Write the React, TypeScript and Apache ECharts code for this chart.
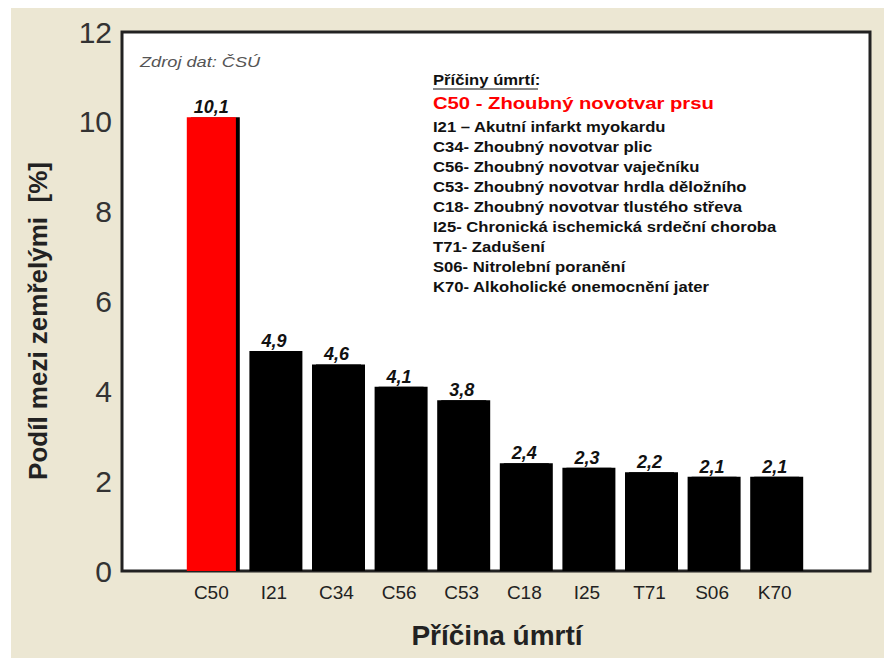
import React, { useEffect, useRef } from 'react';
import * as echarts from 'echarts';

const categories = ['C50', 'I21', 'C34', 'C56', 'C53', 'C18', 'I25', 'T71', 'S06', 'K70'];
const values = [10.1, 4.9, 4.6, 4.1, 3.8, 2.4, 2.3, 2.2, 2.1, 2.1];
const barColors = ['#ff0000', '#000000', '#000000', '#000000', '#000000', '#000000', '#000000', '#000000', '#000000', '#000000'];
const yMin = 0;
const yMax = 12;
const yInterval = 2;
const sourceText = 'Zdroj dat: ČSÚ';
const yAxisTitle = 'Podíl mezi zemřelými  [%]';
const xAxisTitle = 'Příčina úmrtí';
const legendTitle = 'Příčiny úmrtí:';
const legendHighlight = 'C50 - Zhoubný novotvar prsu';
const legendItems = [
  'I21 – Akutní infarkt myokardu',
  'C34- Zhoubný novotvar plic',
  'C56- Zhoubný novotvar vaječníku',
  'C53- Zhoubný novotvar hrdla děložního',
  'C18- Zhoubný novotvar tlustého střeva',
  'I25- Chronická ischemická srdeční choroba',
  'T71- Zadušení',
  'S06- Nitrolební poranění',
  'K70- Alkoholické onemocnění jater',
];

const FONT = '"Liberation Sans", Arial, sans-serif';

export default function App() {
  const ref = useRef<HTMLDivElement>(null);
  useEffect(() => {
    if (!ref.current) return;
    const chart = echarts.init(ref.current, undefined, { renderer: 'svg' });
    const legendX = 433;
    const sx = 1.19;
    const graphic: any[] = [
      { type: 'rect', z: -10, shape: { x: 11, y: 8, width: 900, height: 700 }, style: { fill: '#ece7d3' }, silent: true },
      { type: 'text', x: 140, y: 62, scaleX: 1.3, style: { text: sourceText, font: `italic 14px ${FONT}`, fill: '#555', textVerticalAlign: 'middle' } },
      { type: 'text', x: legendX, y: 80, scaleX: sx, style: { text: legendTitle, font: `bold 14px ${FONT}`, fill: '#111', textVerticalAlign: 'middle' } },
      { type: 'line', shape: { x1: legendX, y1: 89, x2: legendX + 105, y2: 89 }, style: { stroke: '#111', lineWidth: 1 } },
      { type: 'text', x: legendX, y: 103, scaleX: sx, style: { text: legendHighlight, font: `bold 17px ${FONT}`, fill: '#ff0000', textVerticalAlign: 'middle' } },
      ...legendItems.map((t, i) => ({
        type: 'text', x: legendX, y: 127 + i * 20, scaleX: sx,
        style: { text: t, font: `bold 14px ${FONT}`, fill: '#111', textVerticalAlign: 'middle' },
      })),
      { type: 'text', x: 38, y: 321, rotation: Math.PI / 2, style: { text: yAxisTitle, font: `bold 26px ${FONT}`, fill: '#222', textAlign: 'center', textVerticalAlign: 'middle' } },
      { type: 'text', x: 497, y: 635, style: { text: xAxisTitle, font: `bold 28px ${FONT}`, fill: '#222', textAlign: 'center', textVerticalAlign: 'middle' } },
    ];
    chart.setOption({
      animation: false,
      backgroundColor: '#ffffff',
      graphic,
      grid: [
        { left: 122, right: 14, top: 32, bottom: 87, show: true, borderColor: '#222', borderWidth: 3, backgroundColor: '#ffffff' },
        { left: 180, right: 78, top: 32, bottom: 87 },
      ],
      xAxis: [
        { gridIndex: 0, type: 'value', min: 0, max: 1, show: false },
        {
          gridIndex: 1, type: 'category', data: categories,
          axisLine: { show: false }, axisTick: { show: false },
          axisLabel: { fontSize: 19, color: '#222', margin: 12, fontFamily: FONT },
        },
      ],
      yAxis: [
        {
          gridIndex: 0, type: 'value', min: yMin, max: yMax, interval: yInterval,
          axisLine: { show: false }, axisTick: { show: false }, splitLine: { show: false },
          axisLabel: { fontSize: 30, color: '#333', margin: 10, fontFamily: FONT },
        },
        { gridIndex: 1, type: 'value', min: yMin, max: yMax, interval: yInterval, show: false },
      ],
      series: [
        {
          type: 'bar', xAxisIndex: 1, yAxisIndex: 1, barWidth: 49,
          data: values.map((v, i) => ({ value: v, itemStyle: { color: barColors[i] } })),
          itemStyle: { shadowColor: '#000', shadowOffsetX: 4, shadowOffsetY: 0, shadowBlur: 0 },
          label: {
            show: true, position: 'top', distance: 1,
            formatter: (p: any) => String(p.value).replace('.', ','),
            fontStyle: 'italic', fontWeight: 'bold', fontSize: 18, color: '#111', fontFamily: FONT,
          },
        },
      ],
    });
    return () => chart.dispose();
  }, []);
  return <div ref={ref} style={{ position: 'fixed', left: 0, top: 0, width: 884, height: 658 }} />;
}
